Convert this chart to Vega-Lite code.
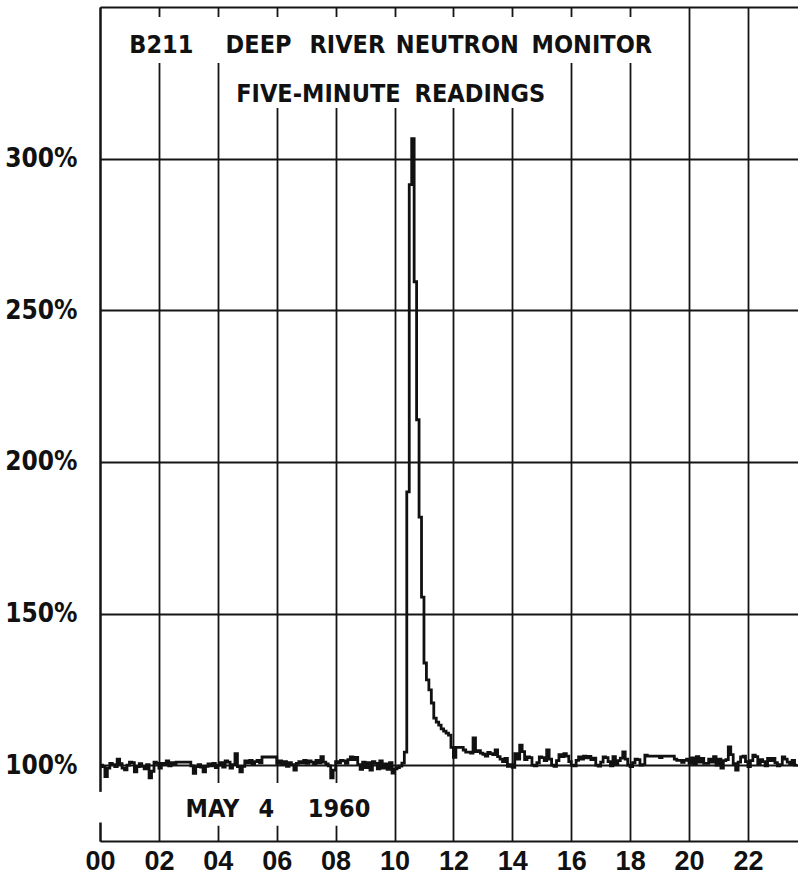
{
  "$schema": "https://vega.github.io/schema/vega-lite/v6.json",
  "width": 698,
  "height": 834,
  "autosize": {"type": "none"},
  "padding": {"left": 100, "top": 7, "right": 0, "bottom": 40},
  "background": "white",
  "config": {
    "view": {"stroke": null},
    "axis": {"zindex": 0, "ticks": false, "gridColor": "#151515", "gridOpacity": 1, "gridWidth": 1.8, "domainColor": "#151515", "domainWidth": 2.2, "labelColor": "#111", "labelFontWeight": "bold", "labelFlush": false, "labelBound": false, "labelOverlap": false}
  },
  "datasets": {
    "readings": [
      {"m":0,"v":100.0},{"m":5,"v":99.5},{"m":10,"v":96.2},{"m":15,"v":99.0},{"m":20,"v":100.6},{"m":25,"v":100.2},{"m":30,"v":99.5},{"m":35,"v":102.0},{"m":40,"v":100.5},{"m":45,"v":99.0},{"m":50,"v":98.5},{"m":55,"v":100.0},
      {"m":60,"v":101.0},{"m":65,"v":100.8},{"m":70,"v":97.8},{"m":75,"v":99.5},{"m":80,"v":100.5},{"m":85,"v":99.6},{"m":90,"v":98.8},{"m":95,"v":100.2},{"m":100,"v":95.8},{"m":105,"v":98.0},{"m":110,"v":101.0},{"m":115,"v":100.6},
      {"m":120,"v":99.0},{"m":125,"v":100.6},{"m":130,"v":100.2},{"m":135,"v":101.4},{"m":140,"v":99.8},{"m":145,"v":100.8},{"m":150,"v":100.2},{"m":155,"v":101.0},{"m":160,"v":101.0},{"m":165,"v":101.0},{"m":170,"v":101.0},{"m":175,"v":101.0},
      {"m":180,"v":101.0},{"m":185,"v":99.8},{"m":190,"v":97.3},{"m":195,"v":99.5},{"m":200,"v":100.2},{"m":205,"v":99.4},{"m":210,"v":97.8},{"m":215,"v":99.6},{"m":220,"v":100.4},{"m":225,"v":99.8},{"m":230,"v":100.6},{"m":235,"v":99.2},
      {"m":240,"v":100.0},{"m":245,"v":100.8},{"m":250,"v":99.4},{"m":255,"v":101.4},{"m":260,"v":101.0},{"m":265,"v":99.0},{"m":270,"v":100.2},{"m":275,"v":103.8},{"m":280,"v":99.5},{"m":285,"v":97.8},{"m":290,"v":99.6},{"m":295,"v":101.4},
      {"m":300,"v":100.8},{"m":305,"v":101.6},{"m":310,"v":100.4},{"m":315,"v":101.2},{"m":320,"v":101.6},{"m":325,"v":100.8},{"m":330,"v":102.7},{"m":335,"v":102.7},{"m":340,"v":102.7},{"m":345,"v":102.7},{"m":350,"v":102.7},{"m":355,"v":102.7},
      {"m":360,"v":100.6},{"m":365,"v":101.4},{"m":370,"v":100.2},{"m":375,"v":101.2},{"m":380,"v":99.6},{"m":385,"v":100.8},{"m":390,"v":100.2},{"m":395,"v":98.4},{"m":400,"v":100.6},{"m":405,"v":101.2},{"m":410,"v":100.8},{"m":415,"v":101.6},
      {"m":420,"v":100.6},{"m":425,"v":101.4},{"m":430,"v":101.0},{"m":435,"v":100.4},{"m":440,"v":101.6},{"m":445,"v":100.8},{"m":450,"v":102.8},{"m":455,"v":101.0},{"m":460,"v":100.4},{"m":465,"v":99.8},{"m":470,"v":95.8},{"m":475,"v":98.4},
      {"m":480,"v":101.2},{"m":485,"v":100.8},{"m":490,"v":101.6},{"m":495,"v":101.4},{"m":500,"v":100.6},{"m":505,"v":101.8},{"m":510,"v":102.7},{"m":515,"v":101.8},{"m":520,"v":102.6},{"m":525,"v":100.2},{"m":530,"v":98.6},{"m":535,"v":101.0},
      {"m":540,"v":99.2},{"m":545,"v":100.8},{"m":550,"v":98.4},{"m":555,"v":101.2},{"m":560,"v":100.6},{"m":565,"v":98.8},{"m":570,"v":101.4},{"m":575,"v":99.0},{"m":580,"v":100.4},{"m":585,"v":98.6},{"m":590,"v":100.8},{"m":595,"v":97.4},
      {"m":600,"v":98.8},{"m":605,"v":99.2},{"m":610,"v":99.7},{"m":615,"v":100.7},{"m":620,"v":104.3},{"m":625,"v":190.1},{"m":630,"v":291.4},{"m":635,"v":306.6},{"m":640,"v":259.4},{"m":645,"v":213.9},{"m":650,"v":181.8},{"m":655,"v":155.4},
      {"m":660,"v":133.7},{"m":665,"v":128.1},{"m":670,"v":124.8},{"m":675,"v":120.5},{"m":680,"v":115.5},{"m":685,"v":114.2},{"m":690,"v":113.2},{"m":695,"v":112.0},{"m":700,"v":111.2},{"m":705,"v":110.6},{"m":710,"v":109.9},{"m":715,"v":105.9},
      {"m":720,"v":102.6},{"m":725,"v":105.9},{"m":730,"v":105.9},{"m":735,"v":105.9},{"m":740,"v":105.0},{"m":745,"v":104.3},{"m":750,"v":104.3},{"m":755,"v":104.0},{"m":760,"v":109.0},{"m":765,"v":104.5},{"m":770,"v":104.8},{"m":775,"v":104.0},
      {"m":780,"v":103.6},{"m":785,"v":103.0},{"m":790,"v":104.2},{"m":795,"v":103.8},{"m":800,"v":103.5},{"m":805,"v":105.0},{"m":810,"v":102.8},{"m":815,"v":102.0},{"m":820,"v":101.2},{"m":825,"v":102.2},{"m":830,"v":99.6},{"m":835,"v":100.2},
      {"m":840,"v":99.3},{"m":845,"v":103.8},{"m":850,"v":102.0},{"m":855,"v":106.6},{"m":860,"v":104.5},{"m":865,"v":101.8},{"m":870,"v":102.7},{"m":875,"v":102.5},{"m":880,"v":100.0},{"m":885,"v":99.8},{"m":890,"v":100.8},{"m":895,"v":102.7},
      {"m":900,"v":102.5},{"m":905,"v":101.5},{"m":910,"v":105.0},{"m":915,"v":102.0},{"m":920,"v":100.0},{"m":925,"v":99.6},{"m":930,"v":101.5},{"m":935,"v":103.5},{"m":940,"v":102.8},{"m":945,"v":103.8},{"m":950,"v":103.0},{"m":955,"v":101.2},
      {"m":960,"v":100.0},{"m":965,"v":99.8},{"m":970,"v":101.6},{"m":975,"v":102.7},{"m":980,"v":102.0},{"m":985,"v":103.0},{"m":990,"v":102.4},{"m":995,"v":102.9},{"m":1000,"v":101.8},{"m":1005,"v":102.3},{"m":1010,"v":100.0},{"m":1015,"v":99.7},
      {"m":1020,"v":101.0},{"m":1025,"v":102.7},{"m":1030,"v":102.5},{"m":1035,"v":101.2},{"m":1040,"v":99.8},{"m":1045,"v":102.8},{"m":1050,"v":100.2},{"m":1055,"v":101.5},{"m":1060,"v":102.3},{"m":1065,"v":104.4},{"m":1070,"v":102.0},{"m":1075,"v":100.0},
      {"m":1080,"v":99.5},{"m":1085,"v":100.8},{"m":1090,"v":102.0},{"m":1095,"v":101.8},{"m":1100,"v":100.0},{"m":1105,"v":100.2},{"m":1110,"v":103.3},{"m":1115,"v":103.0},{"m":1120,"v":103.0},{"m":1125,"v":103.0},{"m":1130,"v":103.0},{"m":1135,"v":103.0},
      {"m":1140,"v":102.5},{"m":1145,"v":103.0},{"m":1150,"v":103.0},{"m":1155,"v":103.0},{"m":1160,"v":103.0},{"m":1165,"v":103.0},{"m":1170,"v":102.0},{"m":1175,"v":101.6},{"m":1180,"v":101.6},{"m":1185,"v":100.9},{"m":1190,"v":101.6},{"m":1195,"v":102.0},
      {"m":1200,"v":100.6},{"m":1205,"v":102.4},{"m":1210,"v":100.4},{"m":1215,"v":102.8},{"m":1220,"v":101.0},{"m":1225,"v":102.2},{"m":1230,"v":100.6},{"m":1235,"v":100.6},{"m":1240,"v":102.0},{"m":1245,"v":101.0},{"m":1250,"v":102.8},{"m":1255,"v":100.0},
      {"m":1260,"v":102.0},{"m":1265,"v":99.0},{"m":1270,"v":101.5},{"m":1275,"v":101.8},{"m":1280,"v":106.0},{"m":1285,"v":103.5},{"m":1290,"v":100.5},{"m":1295,"v":98.4},{"m":1300,"v":101.0},{"m":1305,"v":102.7},{"m":1310,"v":103.0},{"m":1315,"v":101.2},
      {"m":1320,"v":99.5},{"m":1325,"v":101.5},{"m":1330,"v":103.3},{"m":1335,"v":102.8},{"m":1340,"v":100.5},{"m":1345,"v":101.8},{"m":1350,"v":101.2},{"m":1355,"v":99.8},{"m":1360,"v":102.2},{"m":1365,"v":101.5},{"m":1370,"v":102.2},{"m":1375,"v":100.8},
      {"m":1380,"v":99.8},{"m":1385,"v":100.2},{"m":1390,"v":102.7},{"m":1395,"v":102.0},{"m":1400,"v":101.0},{"m":1405,"v":100.5},{"m":1410,"v":101.6},{"m":1415,"v":100.0},{"m":1420,"v":100.2}
    ],
    "masks": [
      {"x1": 51, "x2": 1131, "y1": 331.5, "y2": 346.7},
      {"x1": 255, "x2": 937, "y1": 316.7, "y2": 331.5},
      {"x1": 163, "x2": 540, "y1": 80.0, "y2": 94.1},
      {"x1": -6, "x2": 6, "y1": 81.1, "y2": 91.2}
    ],
    "labels": [
      {"text": "B211", "x": 125, "y": 334.8},
      {"text": "DEEP", "x": 323, "y": 334.8},
      {"text": "RIVER", "x": 504, "y": 334.8},
      {"text": "NEUTRON", "x": 728, "y": 334.8},
      {"text": "MONITOR", "x": 1002, "y": 334.8},
      {"text": "FIVE-MINUTE", "x": 445, "y": 318.7},
      {"text": "READINGS", "x": 774, "y": 318.7},
      {"text": "MAY", "x": 229, "y": 82.9},
      {"text": "4", "x": 339, "y": 82.9},
      {"text": "1960", "x": 487, "y": 82.9}
    ]
  },
  "layer": [
    {
      "data": {"name": "readings"},
      "mark": {"type": "line", "interpolate": "step-after", "color": "#111", "strokeWidth": 2.8, "clip": true},
      "encoding": {
        "x": {
          "field": "m", "type": "quantitative",
          "scale": {"domain": [0, 1422], "nice": false, "zero": false},
          "axis": {
            "title": null,
            "values": [0, 120, 240, 360, 480, 600, 720, 840, 960, 1080, 1200, 1320],
            "labelExpr": "(datum.value < 600 ? '0' : '') + (datum.value / 60)",
            "grid": true,
            "labelFont": "Liberation Sans",
            "labelFontSize": 27,
            "labelPadding": 7
          }
        },
        "y": {
          "field": "v", "type": "quantitative",
          "scale": {"domain": [75, 350], "nice": false, "zero": false},
          "axis": {
            "title": null,
            "values": [100, 150, 200, 250, 300, 350],
            "labelExpr": "datum.value > 320 ? '' : datum.value + '%'",
            "grid": true,
            "labelFont": "DejaVu Sans Condensed",
            "labelFontSize": 26,
            "labelPadding": 23
          }
        }
      }
    },
    {
      "data": {"name": "masks"},
      "mark": {"type": "rect", "color": "white"},
      "encoding": {
        "x": {"field": "x1", "type": "quantitative"},
        "x2": {"field": "x2"},
        "y": {"field": "y1", "type": "quantitative"},
        "y2": {"field": "y2"}
      }
    },
    {
      "data": {"name": "labels"},
      "mark": {"type": "text", "align": "center", "baseline": "alphabetic", "font": "DejaVu Sans Condensed", "fontWeight": "bold", "fontSize": 25, "color": "#111"},
      "encoding": {
        "x": {"field": "x", "type": "quantitative"},
        "y": {"field": "y", "type": "quantitative"},
        "text": {"field": "text"}
      }
    }
  ]
}
